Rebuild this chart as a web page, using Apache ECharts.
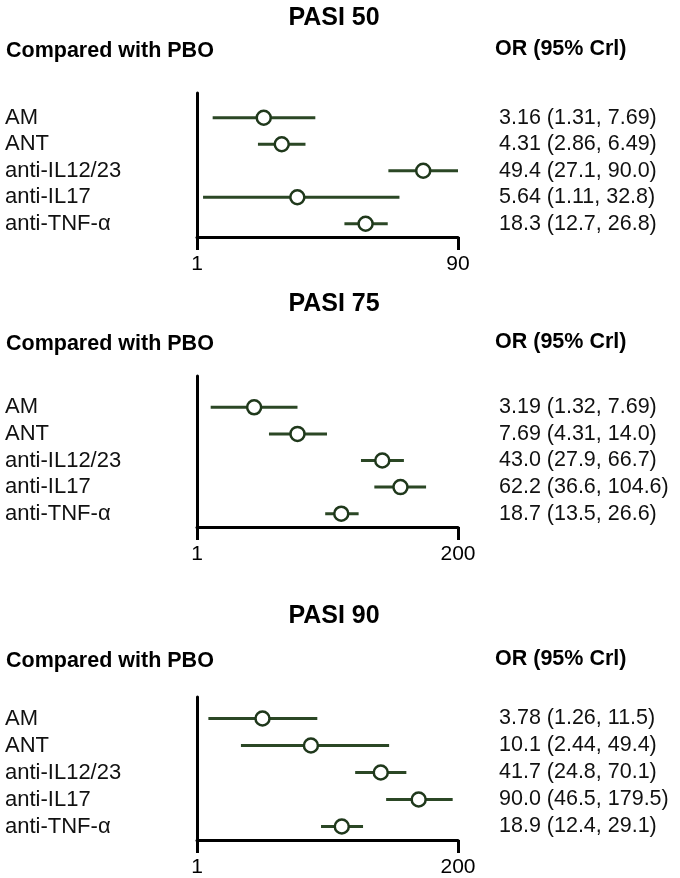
<!DOCTYPE html>
<html>
<head>
<meta charset="utf-8">
<script src="https://cdn.jsdelivr.net/npm/echarts@6/dist/echarts.min.js"></script>
<style>
html,body{margin:0;padding:0;background:#fff;}
#chart{width:680px;height:878px;}
</style>
</head>
<body>
<div id="chart"></div>
<script>
// ---------------- DATA ----------------
const panelTitles = ['PASI 50', 'PASI 75', 'PASI 90'];
const leftHeader = 'Compared with PBO';
const rightHeader = 'OR (95% Crl)';
const treatments = ['AM', 'ANT', 'anti-IL12/23', 'anti-IL17', 'anti-TNF-\u03b1'];

const pasi50_or   = [3.16, 4.31, 49.4, 5.64, 18.3];
const pasi50_low  = [1.31, 2.86, 27.1, 1.11, 12.7];
const pasi50_high = [7.69, 6.49, 90.0, 32.8, 26.8];
const pasi50_text = ['3.16 (1.31, 7.69)', '4.31 (2.86, 6.49)', '49.4 (27.1, 90.0)', '5.64 (1.11, 32.8)', '18.3 (12.7, 26.8)'];
const pasi50_ticks = [1, 90];

const pasi75_or   = [3.19, 7.69, 43.0, 62.2, 18.7];
const pasi75_low  = [1.32, 4.31, 27.9, 36.6, 13.5];
const pasi75_high = [7.69, 14.0, 66.7, 104.6, 26.6];
const pasi75_text = ['3.19 (1.32, 7.69)', '7.69 (4.31, 14.0)', '43.0 (27.9, 66.7)', '62.2 (36.6, 104.6)', '18.7 (13.5, 26.6)'];
const pasi75_ticks = [1, 200];

const pasi90_or   = [3.78, 10.1, 41.7, 90.0, 18.9];
const pasi90_low  = [1.26, 2.44, 24.8, 46.5, 12.4];
const pasi90_high = [11.5, 49.4, 70.1, 179.5, 29.1];
const pasi90_text = ['3.78 (1.26, 11.5)', '10.1 (2.44, 49.4)', '41.7 (24.8, 70.1)', '90.0 (46.5, 179.5)', '18.9 (12.4, 29.1)'];
const pasi90_ticks = [1, 200];

// ---------------- LAYOUT / STYLE ----------------
const FONT = "'Liberation Sans', Arial, Helvetica, sans-serif";
const LINE_COLOR = '#2b4725';
const CIRCLE_COLOR = '#1f381b';
const AXIS_COLOR = '#000';
const plotLeft = 197, plotWidth = 261;

const panels = [
  { title: panelTitles[0], or: pasi50_or, low: pasi50_low, high: pasi50_high, text: pasi50_text, ticks: pasi50_ticks,
    titleY: 18, headY: 51, dataTop: 104.5, axisY: 237, frameTop: 93 },
  { title: panelTitles[1], or: pasi75_or, low: pasi75_low, high: pasi75_high, text: pasi75_text, ticks: pasi75_ticks,
    titleY: 304, headY: 344, dataTop: 394, axisY: 527, frameTop: 376 },
  { title: panelTitles[2], or: pasi90_or, low: pasi90_low, high: pasi90_high, text: pasi90_text, ticks: pasi90_ticks,
    titleY: 616, headY: 661, dataTop: 705, axisY: 840, frameTop: 697 }
];

const grid = [], xAxis = [], yAxis = [], series = [], graphic = [];

panels.forEach((p) => {
  grid.push({ left: plotLeft, width: plotWidth, top: p.dataTop, height: p.axisY - p.dataTop, containLabel: false });
});
panels.forEach((p) => {
  grid.push({ left: plotLeft, width: plotWidth, top: p.frameTop, height: p.axisY - p.frameTop, containLabel: false });
});

panels.forEach((p, i) => {
  const minV = p.ticks[0], maxV = p.ticks[p.ticks.length - 1];
  xAxis.push({
    type: 'log', gridIndex: i, min: minV, max: maxV, logBase: 10,
    axisLine: { show: true, lineStyle: { color: AXIS_COLOR, width: 3 } },
    axisTick: { show: true, customValues: p.ticks, length: 13, inside: false, lineStyle: { color: AXIS_COLOR, width: 3 } },
    axisLabel: { show: true, customValues: p.ticks, color: '#000', fontSize: 21, fontFamily: FONT, margin: 17 },
    splitLine: { show: false }
  });
  yAxis.push({
    type: 'category', gridIndex: i, data: treatments, inverse: true, position: 'left',
    axisLine: { show: false }, axisTick: { show: false }, splitLine: { show: false },
    axisLabel: { interval: 0, align: 'left', margin: 192, color: '#111', fontSize: 22, fontFamily: FONT }
  });
});
panels.forEach((p, i) => {
  yAxis.push({
    type: 'category', gridIndex: i, data: p.text, inverse: true, position: 'right',
    axisLine: { show: false }, axisTick: { show: false }, splitLine: { show: false },
    axisLabel: { interval: 0, align: 'left', margin: 41, color: '#111', fontSize: 21.5, fontFamily: FONT }
  });
});
panels.forEach((p, i) => {
  // frame axes: taller vertical axis line
  xAxis.push({ type: 'value', gridIndex: 3 + i, min: 0, max: 1, show: false });
  yAxis.push({
    type: 'value', gridIndex: 3 + i, min: 0, max: 1, position: 'left',
    axisLine: { show: true, onZero: false, lineStyle: { color: AXIS_COLOR, width: 3 } },
    axisTick: { show: false }, axisLabel: { show: false }, splitLine: { show: false }
  });
});

panels.forEach((p, i) => {
  const ciData = treatments.map((t, k) => [p.low[k], p.high[k], k]);
  const ptData = treatments.map((t, k) => [p.or[k], k]);
  series.push({
    type: 'custom', xAxisIndex: i, yAxisIndex: i, z: 2,
    encode: { x: [0, 1], y: 2 },
    data: ciData,
    renderItem: function (params, api) {
      const y = api.value(2);
      const a = api.coord([api.value(0), y]);
      const b = api.coord([api.value(1), y]);
      return { type: 'line', shape: { x1: a[0], y1: a[1], x2: b[0], y2: b[1] },
               style: { stroke: LINE_COLOR, lineWidth: 3 } };
    },
    silent: true
  });
  series.push({
    type: 'scatter', xAxisIndex: i, yAxisIndex: i, z: 3,
    symbol: 'circle', symbolSize: 14,
    itemStyle: { color: '#fff', borderColor: CIRCLE_COLOR, borderWidth: 2.5, opacity: 1 },
    data: ptData, silent: true
  });
  series.push({ type: 'line', xAxisIndex: 3 + i, yAxisIndex: 6 + i, data: [], silent: true });

  graphic.push({ type: 'text', style: { text: p.title, x: 334, y: p.titleY, textAlign: 'center', textVerticalAlign: 'middle',
                 font: 'bold 25px ' + FONT, fill: '#000' } });
  graphic.push({ type: 'text', style: { text: leftHeader, x: 6, y: p.headY, textAlign: 'left', textVerticalAlign: 'middle',
                 font: 'bold 21.5px ' + FONT, fill: '#000' } });
  graphic.push({ type: 'text', style: { text: rightHeader, x: 495, y: p.headY - 2, textAlign: 'left', textVerticalAlign: 'middle',
                 font: 'bold 21.5px ' + FONT, fill: '#000' } });
});

const chart = echarts.init(document.getElementById('chart'), null, { renderer: 'canvas' });
chart.setOption({
  backgroundColor: '#fff',
  animation: false,
  grid, xAxis, yAxis, series, graphic
});
</script>
</body>
</html>
